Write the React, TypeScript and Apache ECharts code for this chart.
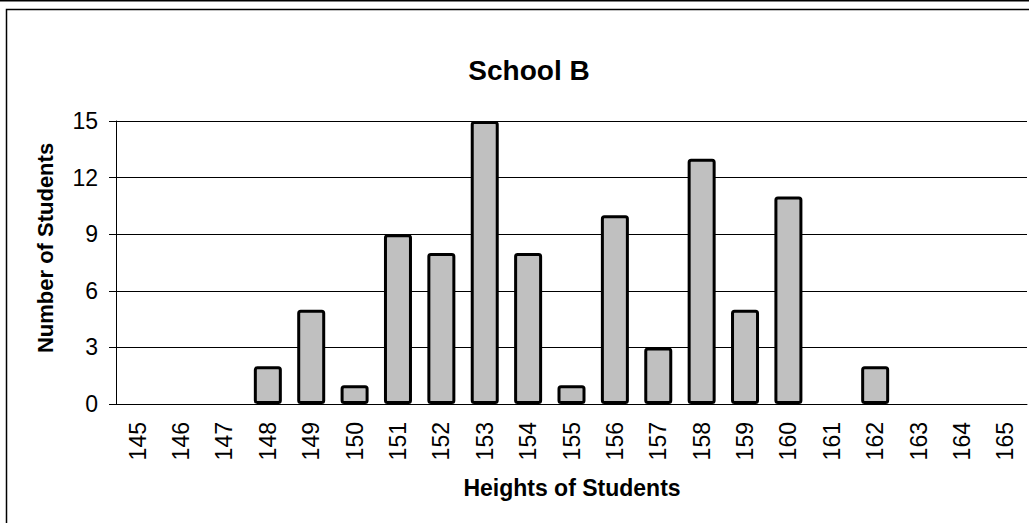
import React, { useEffect, useRef } from "react";
import * as echarts from "echarts";

const heights: string[] = [
  "145", "146", "147", "148", "149", "150", "151", "152", "153", "154", "155",
  "156", "157", "158", "159", "160", "161", "162", "163", "164", "165",
];
const studentCounts: number[] = [0, 0, 0, 2, 5, 1, 9, 8, 15, 8, 1, 10, 3, 13, 5, 11, 0, 2, 0, 0, 0];
const yTicks = { min: 0, max: 15, interval: 3 };

const chartTitle = "School B";
const xTitle = "Heights of Students";
const yTitle = "Number of Students";

const FONT = "'Liberation Sans', Arial, sans-serif";

export default function App() {
  const ref = useRef<HTMLDivElement>(null);

  useEffect(() => {
    if (!ref.current) return;
    const chart = echarts.init(ref.current, null, { renderer: "svg" });
    chart.setOption({
      animation: false,
      backgroundColor: "#ffffff",
      textStyle: { fontFamily: FONT },
      grid: { left: 116, right: 2, top: 121, bottom: 119, containLabel: false },
      xAxis: {
        type: "category",
        data: heights,
        axisLine: { show: true, lineStyle: { color: "#000", width: 1 } },
        axisTick: { show: false },
        axisLabel: {
          rotate: 90,
          margin: 18,
          fontSize: 23,
          color: "#000",
          fontFamily: FONT,
          interval: 0,
        },
        splitLine: { show: false },
      },
      yAxis: {
        type: "value",
        min: yTicks.min,
        max: yTicks.max,
        interval: yTicks.interval,
        axisLine: { show: true, lineStyle: { color: "#000", width: 1 } },
        axisTick: { show: true, inside: false, length: 7, lineStyle: { color: "#000" } },
        axisLabel: { margin: 18, fontSize: 23, color: "#000", fontFamily: FONT },
        splitLine: { show: true, lineStyle: { color: "#000", width: 1 } },
      },
      series: [
        {
          type: "bar",
          data: studentCounts.map((v) => (v === 0 ? null : v)),
          barWidth: 28,
          itemStyle: {
            color: "#c0c0c0",
            borderColor: "#000",
            borderWidth: 3,
            borderRadius: 2,
          },
        },
      ],
      graphic: [
        {
          type: "line",
          shape: { x1: 0, y1: 0.5, x2: 1029, y2: 0.5 },
          style: { stroke: "#000", lineWidth: 2 },
          silent: true,
        },
        {
          type: "rect",
          shape: { x: 6.5, y: 9.5, width: 1100, height: 600 },
          style: { fill: "none", stroke: "#000", lineWidth: 1.5 },
          silent: true,
        },
        {
          type: "text",
          x: 529,
          y: 70,
          style: {
            text: chartTitle,
            fontSize: 28,
            fontWeight: "bold",
            fontFamily: FONT,
            fill: "#000",
            align: "center",
            verticalAlign: "middle",
          },
        },
        {
          type: "text",
          x: 572,
          y: 488,
          style: {
            text: xTitle,
            fontSize: 23,
            fontWeight: "bold",
            fontFamily: FONT,
            fill: "#000",
            align: "center",
            verticalAlign: "middle",
          },
        },
        {
          type: "text",
          x: 45,
          y: 248,
          rotation: Math.PI / 2,
          style: {
            text: yTitle,
            fontSize: 22,
            fontWeight: "bold",
            fontFamily: FONT,
            fill: "#000",
            align: "center",
            verticalAlign: "middle",
          },
        },
      ],
    });
    return () => chart.dispose();
  }, []);

  return (
    <div
      ref={ref}
      style={{ position: "fixed", left: 0, top: 0, width: 1029, height: 523 }}
    />
  );
}
